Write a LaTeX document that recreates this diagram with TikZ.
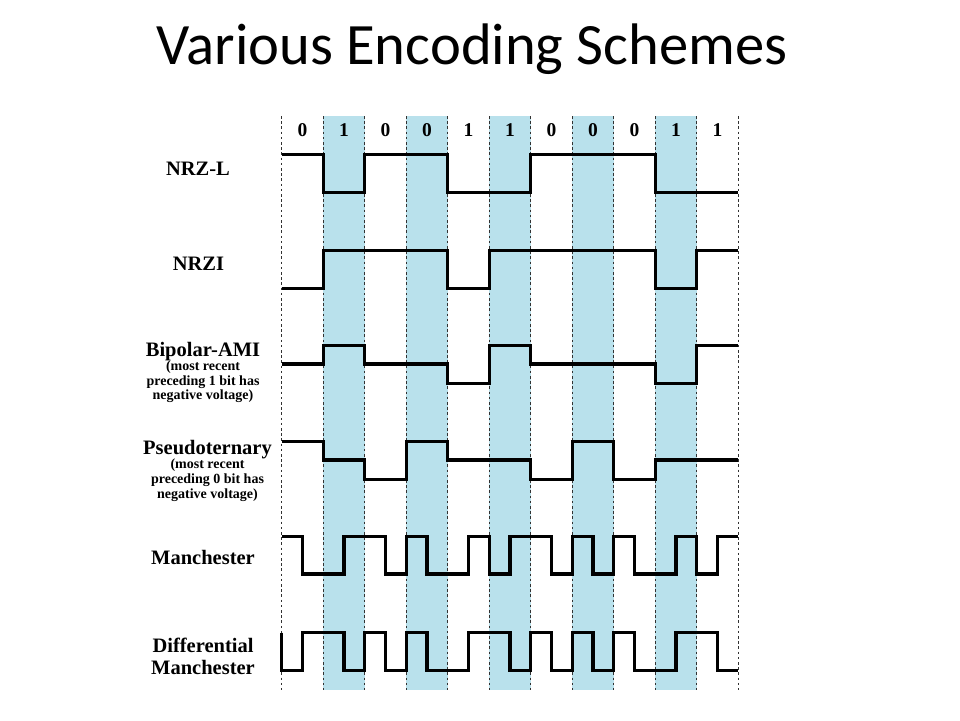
\documentclass[tikz,border=0pt]{standalone}
\usepackage{fontspec}
\setmainfont{Liberation Serif}
\newfontfamily\titlefont{Carlito}
\definecolor{cellblue}{RGB}{185,225,236}
\definecolor{gridgray}{RGB}{50,50,50}
\tikzset{
  wave/.style={line width=3.1pt, line join=miter, black},
  gridline/.style={line width=1pt, gridgray, dash pattern=on 2.6pt off 2.6pt},
  bitlabel/.style={font=\bfseries\fontsize{19.5}{22}\selectfont, anchor=base, inner sep=0pt},
  mainlabel/.style={font=\bfseries\fontsize{20.5}{23}\selectfont, anchor=base, inner sep=0pt},
  sublabel/.style={font=\bfseries\fontsize{14}{16}\selectfont, anchor=base, inner sep=0pt},
}
\begin{document}
\begin{tikzpicture}[x=1pt,y=-1pt]
\useasboundingbox (0,0) rectangle (960,720);
\fill[white] (0,0) rectangle (960,720);
\node[font=\titlefont\fontsize{58.6}{70}\selectfont, anchor=base west, inner sep=0pt] (title) at (156.5,64.3) {Various Encoding Schemes};
% labels
\node[mainlabel] (nrzl) at (198,175) {NRZ-L};
\node[mainlabel] (nrzi) at (198.5,270) {NRZI};
\node[mainlabel] (ami) at (203,356) {Bipolar-AMI};
\node[sublabel] (amia) at (203,370) {(most recent};
\node[sublabel] (amib) at (203,385) {preceding 1 bit has};
\node[sublabel] (amic) at (203,399.5) {negative voltage)};
\node[mainlabel] (pseudo) at (207.5,454) {Pseudoternary};
\node[sublabel] (pseudoa) at (207.5,468.5) {(most recent};
\node[sublabel] (pseudob) at (207.5,483.5) {preceding 0 bit has};
\node[sublabel] (pseudoc) at (207.5,498.3) {negative voltage)};
\node[mainlabel] (manch) at (203,564) {Manchester};
\node[mainlabel] (diffa) at (203,652.7) {Differential};
\node[mainlabel] (diffb) at (203,674) {Manchester};
\begin{scope}[xshift=281.7pt, x=41.5pt]
  % shaded cells
  \foreach \c in {1,3,5,7,9}
    \fill[cellblue] (\c,116) rectangle (\c+1,690);
  % grid
  \foreach \c in {0,...,11}
    \draw[gridline] (\c,116) -- (\c,690);
  % bits
  \foreach \b [count=\i from 0] in {0,1,0,0,1,1,0,0,0,1,1}
    \node[bitlabel] (bit\i) at (\i+0.5,136) {\b};
  % NRZ-L
  \def\H{154.3}\def\L{192.3}
  \draw[wave] (0,\H) -- (1,\H) |- (2,\L) |- (4,\H) |- (6,\L) |- (9,\H) |- (11,\L);
  % NRZI
  \def\H{250.3}\def\L{288.3}
  \draw[wave] (0,\L) -- (1,\L) |- (4,\H) |- (5,\L) |- (9,\H) |- (10,\L) |- (11,\H);
  % Bipolar-AMI
  \def\H{345.3}\def\M{364}\def\L{383.3}
  \draw[wave] (0,\M) -- (1,\M) |- (2,\H) |- (4,\M) |- (5,\L) |- (6,\H) |- (9,\M) |- (10,\L) |- (11,\H);
  % Pseudoternary
  \def\H{441.3}\def\M{460}\def\L{479.3}
  \draw[wave] (0,\H) -- (1,\H) |- (2,\M) |- (3,\L) |- (4,\H) |- (6,\M) |- (7,\L) |- (8,\H) |- (9,\L) |- (11,\M);
  % Manchester
  \def\H{536.7}\def\L{574}
  \draw[wave] (0,\H) -- (0.5,\H) |- (1.5,\L) |- (2.5,\H) |- (3,\L) |- (3.5,\H) |- (4.5,\L) |- (5,\H) |- (5.5,\L) |- (6.5,\H) |- (7,\L) |- (7.5,\H) |- (8,\L) |- (8.5,\H) |- (9.5,\L) |- (10,\H) |- (10.5,\L) |- (11,\H);
  % Differential Manchester
  \def\H{632.7}\def\L{670.7}
  \draw[wave] (0,\H) -- (0,\L) -- (0.5,\L) |- (1.5,\H) |- (2,\L) |- (2.5,\H) |- (3,\L) |- (3.5,\H) |- (4.5,\L) |- (5.5,\H) |- (6,\L) |- (6.5,\H) |- (7,\L) |- (7.5,\H) |- (8,\L) |- (8.5,\H) |- (9.5,\L) |- (10.5,\H) |- (11,\L);
\end{scope}
\end{tikzpicture}
\end{document}
